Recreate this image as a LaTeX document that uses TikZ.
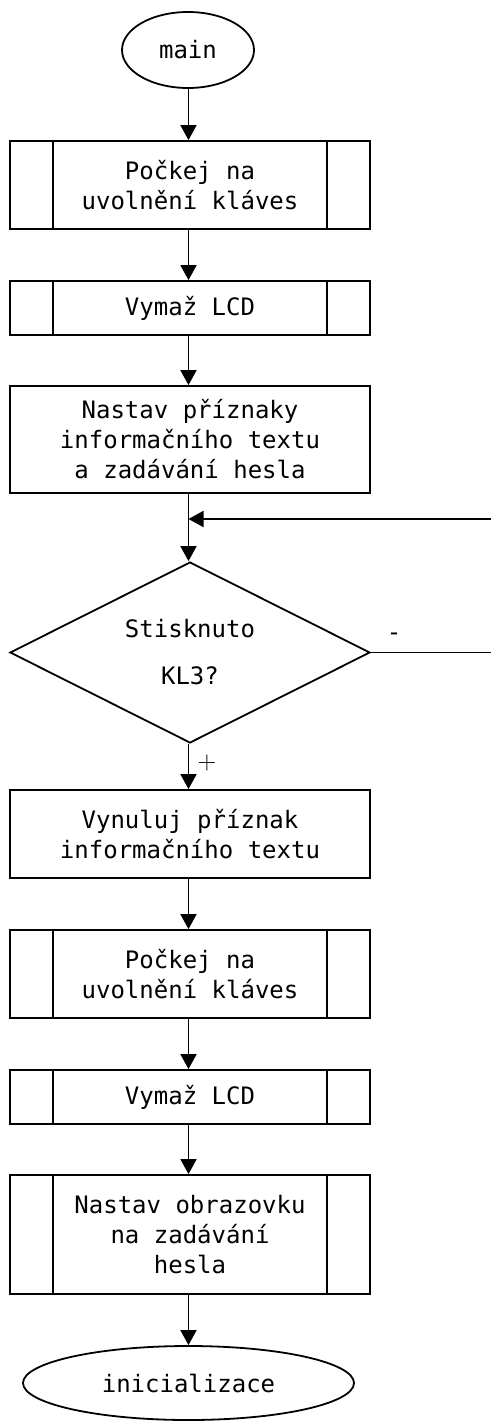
\documentclass[tikz,border=0pt]{standalone}
\usepackage{fontspec}
\newfontfamily\monofnt{DejaVu Sans Mono}
\usetikzlibrary{shapes.geometric,arrows.meta}
\begin{document}
\begin{tikzpicture}[x=1pt,y=-1pt, line width=1.8pt,
  txt/.style={font=\monofnt\fontsize{24}{30}\selectfont, align=center},
  box/.style={txt, draw, minimum width=360pt, inner sep=0pt},
  term/.style={txt, draw, ellipse, inner sep=0pt},
  dec/.style={txt, draw, diamond, aspect=2, minimum width=360pt, minimum height=181pt, inner sep=0pt},
  arr/.style={-{Triangle[length=15pt,width=16pt]}},
  lbl/.style={inner sep=0pt}
]
\useasboundingbox (0,0) rectangle (491,1421);
\node[term, minimum width=132pt, minimum height=76pt] (m) at (188,50) {main};
\node[box, minimum height=88pt] (b1) at (190,185) {Počkej na\\uvolnění kláves};
\node[box, minimum height=54pt] (b2) at (190,308) {Vymaž LCD};
\node[box, minimum height=107pt] (b3) at (190,439.5) {Nastav příznaky\\informačního textu\\a zadávání hesla};
\node[dec] (d) at (190,652.5) {Stisknuto\\[17pt]KL3?};
\node[box, minimum height=88pt] (b4) at (190,834) {Vynuluj příznak\\informačního textu};
\node[box, minimum height=88pt] (b5) at (190,974) {Počkej na\\uvolnění kláves};
\node[box, minimum height=54pt] (b6) at (190,1097) {Vymaž LCD};
\node[box, minimum height=119pt] (b7) at (190,1234.5) {Nastav obrazovku\\na zadávání\\hesla};
\node[term, minimum width=331pt, minimum height=74pt] (e) at (188.5,1383) {inicializace};
\foreach \b in {b1,b2,b5,b6,b7}{
  \draw ([xshift=44pt]\b.north west) -- ([xshift=44pt]\b.south west);
  \draw ([xshift=-44pt]\b.north east) -- ([xshift=-44pt]\b.south east);
}
\coordinate (r1) at (491,652.5);
\coordinate (r2) at (491,519);
\coordinate (j) at (188.5,519);
\draw[arr] (m.south -| 188.5,0) -- (b1.north -| 188.5,0);
\draw[arr] (b1.south -| 188.5,0) -- (b2.north -| 188.5,0);
\draw[arr] (b2.south -| 188.5,0) -- (b3.north -| 188.5,0);
\draw[arr] (b3.south -| 188.5,0) -- (d.north -| 188.5,0);
\draw[arr] (r2) -- (j);
\draw (d.east) -- (r1);
\draw[arr] (d.south -| 188.5,0) -- (b4.north -| 188.5,0);
\draw[arr] (b4.south -| 188.5,0) -- (b5.north -| 188.5,0);
\draw[arr] (b5.south -| 188.5,0) -- (b6.north -| 188.5,0);
\draw[arr] (b6.south -| 188.5,0) -- (b7.north -| 188.5,0);
\draw[arr] (b7.south -| 188.5,0) -- (e.north -| 188.5,0);
\node[lbl, font=\monofnt\fontsize{24}{30}\selectfont] (minus) at (394,637) {-};
\node[lbl, font=\fontsize{26}{30}\selectfont] (plus) at (207,763) {+};
\end{tikzpicture}
\end{document}
